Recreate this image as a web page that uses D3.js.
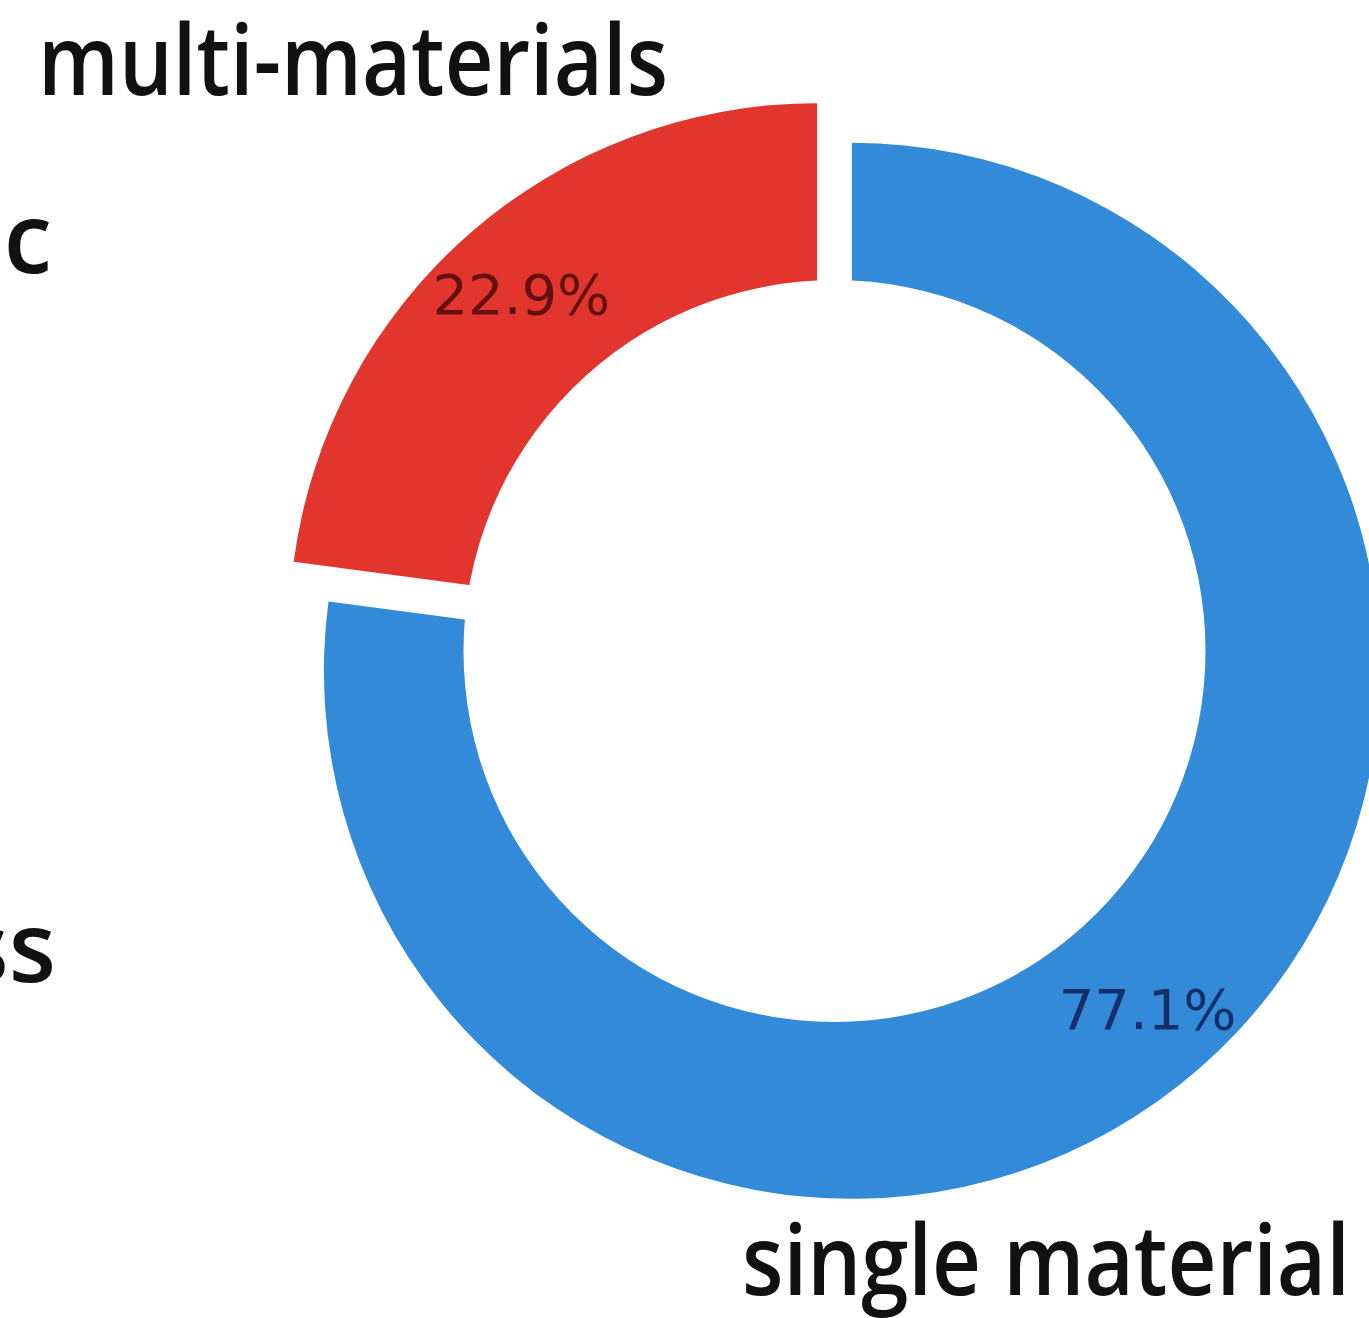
<!DOCTYPE html>
<html>
<head>
<meta charset="utf-8">
<script src="https://cdn.jsdelivr.net/npm/d3@7"></script>
<style>
  html, body { margin: 0; padding: 0; background: #ffffff; }
  svg { display: block; }
</style>
</head>
<body>
<svg id="chart" width="1369" height="1318"></svg>
<script>
// ---- data ----
const categories = ["single material", "multi-materials"];
const values = [77.1, 22.9];
const sliceColors = ["#338ad8", "#e2352d"];
const pctColors = ["#142f6a", "#651010"];
// partial labels of a neighbouring chart, cut by the frame
const fragmentLabels = ["ic", "ss"];

// ---- layout ----
const W = 1369, H = 1318;
const cx = 834.5, cy = 651;
const R = 528, holeR = 371;
const explode = 26.4;
const pctDist = 0.85;

const svg = d3.select("#chart");
const g = svg.append("g").attr("transform", `translate(${cx},${cy})`);

const pie = d3.pie().sort(null).value(d => d.v).startAngle(0).endAngle(2 * Math.PI);
const arcs = pie(values.map((v, i) => ({ v, name: categories[i], i })));

const arc = d3.arc().innerRadius(0).outerRadius(R);
const labelArc = d3.arc().innerRadius(R * pctDist).outerRadius(R * pctDist);

function offset(d) {
  const mid = (d.startAngle + d.endAngle) / 2;
  return [Math.sin(mid) * explode, -Math.cos(mid) * explode];
}

const slices = g.selectAll("g.slice").data(arcs).join("g")
  .attr("class", "slice")
  .attr("transform", d => { const [dx, dy] = offset(d); return `translate(${dx},${dy})`; });

slices.append("path")
  .attr("d", arc)
  .attr("fill", d => sliceColors[d.data.i]);

// white centre circle (donut hole)
g.append("circle").attr("cx", 0).attr("cy", 0).attr("r", holeR).attr("fill", "#ffffff");

// percentage labels
slices.append("text")
  .attr("transform", d => { const [x, y] = labelArc.centroid(d); return `translate(${x},${y})`; })
  .attr("text-anchor", "middle")
  .attr("dy", "0.36em")
  .attr("font-family", "DejaVu Sans, sans-serif")
  .attr("font-size", 56)
  .attr("fill", d => pctColors[d.data.i])
  .text(d => d3.format(".1f")(d.data.v) + "%");

// category labels (horizontally fitted to the reference width)
const labelFont = "'Open Sans', 'Noto Sans', sans-serif";
function fittedLabel(text, x, y, width) {
  const t = svg.append("g").attr("transform", `translate(${x},${y})`)
    .append("text")
    .attr("font-family", labelFont).attr("font-size", 97).attr("font-weight", 600)
    .attr("fill", "#111")
    .text(text);
  const w0 = t.node().getComputedTextLength();
  t.attr("transform", `scale(${width / w0},1)`);
}
fittedLabel(categories[1], 38, 95, 630);
fittedLabel(categories[0], 742, 1295, 608);

// cropped fragments
svg.append("text")
  .attr("x", 52).attr("y", 273).attr("text-anchor", "end")
  .attr("font-family", labelFont).attr("font-size", 97).attr("font-weight", 600).attr("fill", "#111")
  .text(fragmentLabels[0]);
svg.append("text")
  .attr("x", 56).attr("y", 982).attr("text-anchor", "end")
  .attr("font-family", labelFont).attr("font-size", 97).attr("font-weight", 600).attr("fill", "#111")
  .text(fragmentLabels[1]);
</script>
</body>
</html>
